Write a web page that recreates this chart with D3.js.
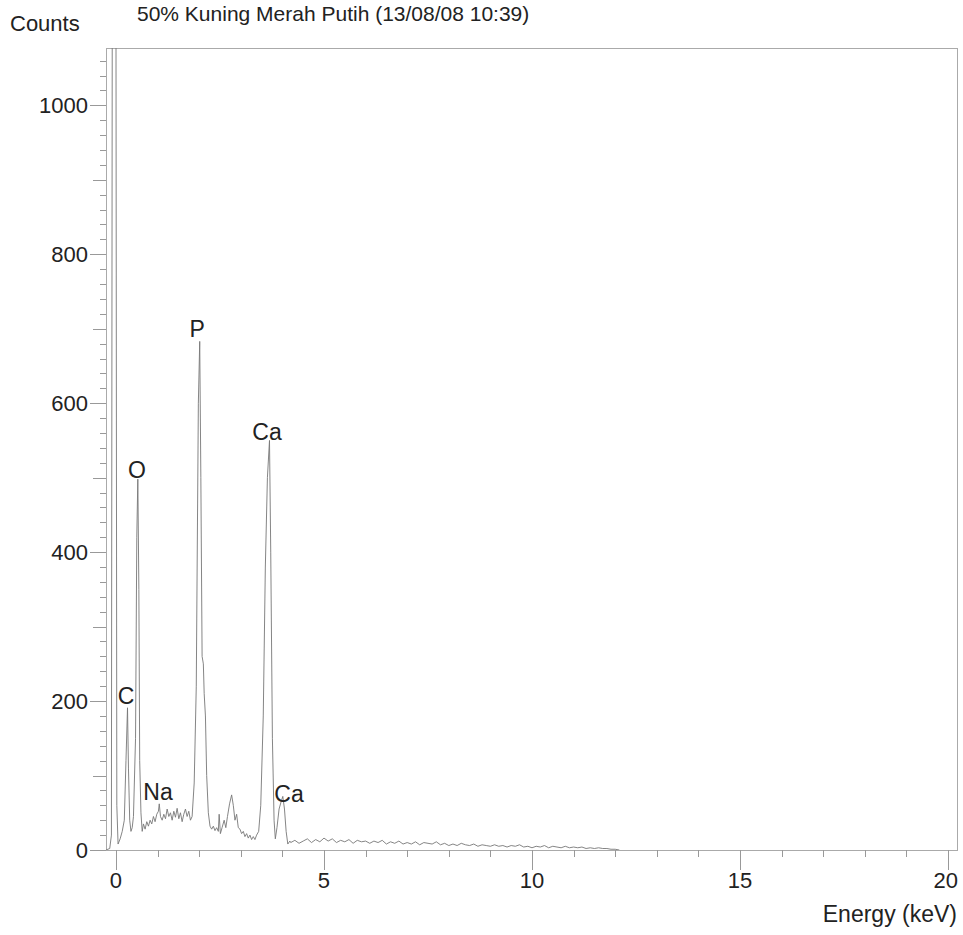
<!DOCTYPE html>
<html>
<head>
<meta charset="utf-8">
<script src="https://cdnjs.cloudflare.com/ajax/libs/d3/7.8.5/d3.min.js"></script>
<style>
  body { margin: 0; background: #fff; }
  svg text { font-family: "Liberation Sans", Arial, sans-serif; fill: #222; }
</style>
</head>
<body>
<svg id="chart"></svg>
<script>
// EDX spectrum
var title = '50% Kuning Merah Putih (13/08/08 10:39)';

// [energy keV, counts] - peaks region
var spectrumLow = [
    [-0.24, 0], [-0.15, 2], [-0.11, 20], [-0.09, 1100], [0.00, 1100], [0.02, 60],
    [0.05, 8], [0.10, 15], [0.15, 25], [0.20, 40], [0.24, 120], [0.277, 191],
    [0.30, 110], [0.33, 40], [0.36, 25], [0.39, 30], [0.42, 45], [0.47, 150],
    [0.50, 420], [0.525, 498], [0.55, 350], [0.57, 120], [0.60, 50], [0.63, 25],
    [0.66, 35], [0.70, 28], [0.74, 38], [0.78, 32], [0.82, 40], [0.86, 35],
    [0.90, 45], [0.94, 38], [0.98, 48], [1.02, 52], [1.04, 62], [1.07, 45],
    [1.11, 40], [1.15, 48], [1.19, 42], [1.23, 55], [1.27, 45], [1.31, 50],
    [1.35, 40], [1.39, 52], [1.43, 44], [1.47, 56], [1.51, 42], [1.55, 50],
    [1.59, 38], [1.63, 48], [1.67, 55], [1.71, 45], [1.75, 52], [1.79, 40],
    [1.83, 45], [1.88, 90], [1.93, 220], [1.98, 600], [2.013, 683], [2.04, 500],
    [2.07, 260], [2.10, 250], [2.12, 210], [2.15, 180], [2.18, 100], [2.22, 50],
    [2.26, 32], [2.30, 28], [2.34, 32], [2.38, 26], [2.42, 30], [2.46, 25],
    [2.48, 48], [2.51, 22], [2.55, 30], [2.60, 40], [2.64, 30], [2.68, 45],
    [2.73, 62], [2.78, 74], [2.82, 60], [2.86, 40], [2.90, 48], [2.94, 30],
    [2.98, 28], [3.02, 22], [3.06, 25], [3.10, 18], [3.14, 22], [3.18, 16],
    [3.22, 20], [3.26, 14], [3.30, 18], [3.34, 14], [3.38, 20], [3.43, 25],
    [3.48, 60], [3.54, 180], [3.59, 380], [3.64, 500], [3.69, 550], [3.72, 400],
    [3.76, 150], [3.80, 40], [3.83, 15], [3.87, 30], [3.92, 55], [3.97, 65],
    [4.01, 72], [4.05, 55], [4.09, 25], [4.13, 8], [4.18, 12]
];

// [energy keV, counts] - background tail
var spectrumTail = [
    [4.2, 10], [4.3, 13], [4.4, 9], [4.5, 12], [4.6, 15], [4.7, 10], [4.8, 14], [4.9, 11],
    [5.0, 16], [5.1, 12], [5.2, 15], [5.3, 10], [5.4, 13], [5.5, 11], [5.6, 14], [5.7, 9],
    [5.8, 13], [5.9, 11], [6.0, 12], [6.1, 9], [6.2, 12], [6.3, 10], [6.4, 13], [6.5, 8],
    [6.6, 11], [6.7, 9], [6.8, 12], [6.9, 8], [7.0, 10], [7.1, 8], [7.2, 11], [7.3, 7],
    [7.4, 10], [7.5, 9], [7.6, 8], [7.7, 11], [7.8, 7], [7.9, 9], [8.0, 6], [8.1, 8],
    [8.2, 6], [8.3, 9], [8.4, 7], [8.5, 6], [8.6, 8], [8.7, 5], [8.8, 7], [8.9, 6],
    [9.0, 5], [9.1, 7], [9.2, 5], [9.3, 6], [9.4, 4], [9.5, 6], [9.6, 5], [9.7, 7],
    [9.8, 4], [9.9, 5], [10.0, 3], [10.1, 5], [10.2, 4], [10.3, 6], [10.4, 3], [10.5, 5],
    [10.6, 4], [10.7, 3], [10.8, 5], [10.9, 3], [11.0, 4], [11.1, 3], [11.2, 4], [11.3, 2],
    [11.4, 3], [11.5, 2], [11.6, 3], [11.7, 2], [11.8, 2], [11.9, 1], [12.0, 1], [12.1, 0]
];

// element labels: name, energy of label centre, counts at label baseline
var peakNames = ['C', 'O', 'Na', 'P', 'Ca', 'Ca'];
var peakLabelEnergy = [0.24, 0.505, 1.01, 1.95, 3.63, 4.16];
var peakLabelCounts = [196, 500, 67, 689, 551, 65];

var xTicks = [0, 5, 10, 15, 20];
var yTicks = [0, 200, 400, 600, 800, 1000];

var width = 963, height = 935;
var margin = {left: 106, right: 5, top: 48, bottom: 85};

var svg = d3.select('#chart')
    .attr('width', width)
    .attr('height', height);

var x = d3.scaleLinear()
    .domain([-0.24, 20.24])
    .range([margin.left, width - margin.right]);

var y = d3.scaleLinear()
    .domain([0, 1077])
    .range([height - margin.bottom, margin.top]);

svg.append('defs').append('clipPath')
    .attr('id', 'plot-clip')
    .append('rect')
    .attr('x', margin.left)
    .attr('y', margin.top)
    .attr('width', width - margin.left - margin.right)
    .attr('height', height - margin.top - margin.bottom);

// frame
svg.append('rect')
    .attr('x', margin.left + 0.5)
    .attr('y', margin.top + 0.5)
    .attr('width', width - margin.left - margin.right - 1)
    .attr('height', height - margin.top - margin.bottom)
    .attr('fill', 'none')
    .attr('stroke', '#aaa')
    .attr('stroke-width', 1);

// y axis - minor ticks every 20, medium every 100, labelled every 200
var yMinor = d3.range(0, 1077, 20);
svg.append('g')
    .selectAll('line')
    .data(yMinor)
    .enter().append('line')
    .attr('x1', function(d) {
        if (d % 200 == 0) return margin.left - 16;
        if (d % 100 == 0) return margin.left - 13;
        return margin.left - 6;
    })
    .attr('x2', margin.left)
    .attr('y1', function(d) { return Math.round(y(d)) + 0.5; })
    .attr('y2', function(d) { return Math.round(y(d)) + 0.5; })
    .attr('stroke', '#999')
    .attr('stroke-width', 1);

svg.append('g')
    .selectAll('text')
    .data(yTicks)
    .enter().append('text')
    .attr('x', 88)
    .attr('y', function(d) { return y(d) + 8; })
    .attr('text-anchor', 'end')
    .style('font-size', '22px')
    .text(function(d) { return d; });

// x axis - ticks every 1 keV, long every 5
svg.append('g')
    .selectAll('line')
    .data(d3.range(0, 21, 1))
    .enter().append('line')
    .attr('x1', function(d) { return Math.round(x(d)) + 0.5; })
    .attr('x2', function(d) { return Math.round(x(d)) + 0.5; })
    .attr('y1', y(0))
    .attr('y2', function(d) { return d % 5 == 0 ? y(0) + 20 : y(0) + 7; })
    .attr('stroke', '#999')
    .attr('stroke-width', 1);

svg.append('g')
    .selectAll('text')
    .data(xTicks)
    .enter().append('text')
    .attr('x', function(d) { return x(d); })
    .attr('y', y(0) + 38)
    .attr('text-anchor', function(d) { return d == 20 ? 'end' : 'middle'; })
    .attr('dx', function(d) { return d == 20 ? 10 : 0; })
    .style('font-size', '22px')
    .text(function(d) { return d; });

// spectrum
var line = d3.line()
    .x(function(d) { return x(d[0]); })
    .y(function(d) { return y(d[1]); });

svg.append('path')
    .datum(spectrumLow.concat(spectrumTail))
    .attr('clip-path', 'url(#plot-clip)')
    .attr('d', line)
    .attr('fill', 'none')
    .attr('stroke', '#777')
    .attr('stroke-width', 0.9);

// element labels
svg.append('g')
    .selectAll('text')
    .data(peakNames)
    .enter().append('text')
    .attr('x', function(d, i) { return x(peakLabelEnergy[i]); })
    .attr('y', function(d, i) { return y(peakLabelCounts[i]); })
    .attr('text-anchor', 'middle')
    .style('font-size', '23px')
    .text(function(d) { return d; });

// titles
svg.append('text')
    .attr('x', 10)
    .attr('y', 31)
    .style('font-size', '22px')
    .text('Counts');

svg.append('text')
    .attr('x', 137)
    .attr('y', 21)
    .style('font-size', '21px')
    .text(title);

svg.append('text')
    .attr('x', 957)
    .attr('y', 922)
    .attr('text-anchor', 'end')
    .style('font-size', '23px')
    .text('Energy (keV)');
</script>
</body>
</html>
